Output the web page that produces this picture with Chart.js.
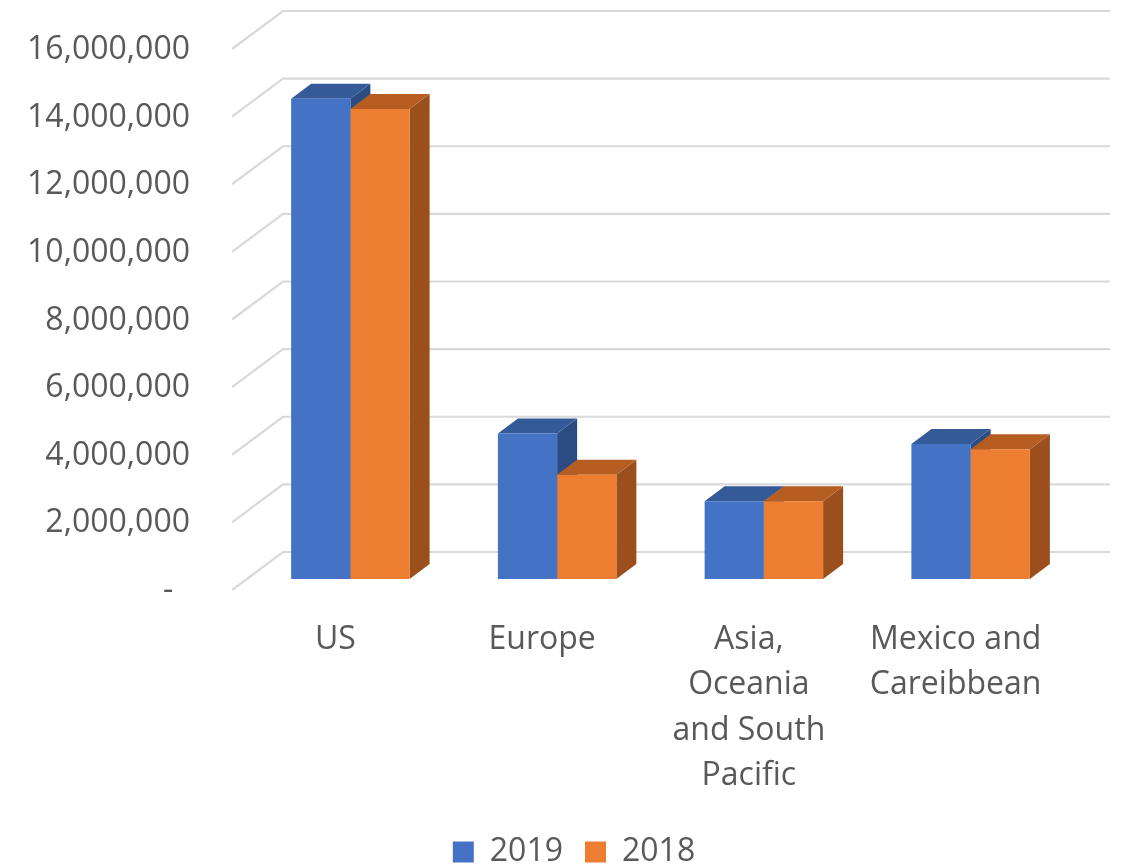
<!DOCTYPE html>
<html>
<head>
<meta charset="utf-8">
<script src="https://cdn.jsdelivr.net/npm/chart.js@4/dist/chart.umd.min.js"></script>
<style>
body { margin: 0; background: #fff; }
</style>
</head>
<body>
<canvas id="chart" width="1122" height="864"></canvas>
<script>
var categories = ['US', 'Europe', ['Asia,', 'Oceania', 'and South', 'Pacific'], ['Mexico and', 'Careibbean']];
var values2019 = [14200000, 4300000, 2300000, 3990000];
var values2018 = [13900000, 3080000, 2300000, 3840000];
var yMin = 0, yMax = 16000000, yStep = 2000000;

// oblique offsets of the fake 3D box
var barDepth = { dx: 20, dy: -15 };
var wallOff = { dx: 36, dy: -27 };
var frontOff = { dx: -15, dy: 11 };
var topColors = ['#345a98', '#b65e22'];
var sideColors = ['#2b4c82', '#9a4f1d'];
var padBottom = -14;

function poly(ctx, pts) {
  ctx.beginPath();
  ctx.moveTo(pts[0][0], pts[0][1]);
  for (var i = 1; i < pts.length; i++) ctx.lineTo(pts[i][0], pts[i][1]);
  ctx.closePath();
  ctx.fill();
}

var threeD = {
  id: 'threeD',
  beforeDatasetsDraw: function(chart) {
    var ctx = chart.ctx, a = chart.chartArea, y = chart.scales.y;
    ctx.save();
    // back wall grid lines with the little diagonal on the left
    ctx.strokeStyle = '#d9d9d9';
    ctx.lineWidth = 2.2;
    y.ticks.forEach(function(t) {
      var p = y.getPixelForValue(t.value);
      ctx.beginPath();
      ctx.moveTo(a.left + frontOff.dx, p + frontOff.dy);
      ctx.lineTo(a.left + wallOff.dx, p + wallOff.dy);
      ctx.lineTo(a.right + wallOff.dx, p + wallOff.dy);
      ctx.stroke();
    });
    // sides and tops; the library paints the front faces over them
    var metas = [chart.getDatasetMeta(0), chart.getDatasetMeta(1)];
    for (var i = 0; i < categories.length; i++) {
      metas.forEach(function(m, k) {
        var b = m.data[i];
        var l = b.x - b.width / 2, r = b.x + b.width / 2, t = b.y, bot = b.base;
        var dx = barDepth.dx, dy = barDepth.dy;
        ctx.fillStyle = sideColors[k];
        poly(ctx, [[r, t], [r + dx, t + dy], [r + dx, bot + dy], [r, bot]]);
        ctx.fillStyle = topColors[k];
        poly(ctx, [[l, t], [r, t], [r + dx, t + dy], [l + dx, t + dy]]);
      });
    }
    ctx.restore();
  }
};

var font = { family: '"Open Sans", sans-serif', size: 32 };

new Chart(document.getElementById('chart').getContext('2d'), {
  type: 'bar',
  data: {
    labels: categories,
    datasets: [
      { label: '2019', data: values2019, backgroundColor: '#4472c4', borderWidth: 0 },
      { label: '2018', data: values2018, backgroundColor: '#ed7d31', borderWidth: 0 }
    ]
  },
  plugins: [threeD],
  options: {
    responsive: false,
    animation: false,
    layout: { padding: { top: 38, left: 26, right: 0, bottom: padBottom } },
    datasets: { bar: { barPercentage: 1, categoryPercentage: 0.573 } },
    plugins: {
      tooltip: { enabled: false },
      legend: {
        position: 'bottom',
        labels: { font: font, color: '#595959', boxWidth: 21, boxHeight: 21, padding: 22 }
      }
    },
    scales: {
      x: {
        grid: { display: false, drawTicks: false },
        border: { display: false },
        ticks: {
          font: { family: font.family, size: 32, lineHeight: 1.42 },
          color: '#595959', padding: 38, labelOffset: -15,
          maxRotation: 0, autoSkip: false
        },
        afterFit: function(s) {
          var lh = s.chart.legend ? s.chart.legend.height : 60;
          s.height = 864 - padBottom - 579 - lh;
        }
      },
      y: {
        min: yMin, max: yMax,
        grid: { display: false, drawTicks: false },
        border: { display: false },
        ticks: {
          stepSize: yStep,
          font: font, color: '#595959', padding: 57, labelOffset: 12,
          callback: function(v) { return v === 0 ? '-  ' : v.toLocaleString('en-US'); }
        },
        afterFit: function(s) { s.width = 221; s.paddingTop = 0; s.paddingBottom = 0; }
      },
      yRight: {
        position: 'right', display: true,
        grid: { display: false, drawTicks: false },
        border: { display: false },
        ticks: { display: false },
        afterFit: function(s) { s.width = 48; s.paddingTop = 0; s.paddingBottom = 0; }
      }
    }
  }
});
</script>
</body>
</html>
